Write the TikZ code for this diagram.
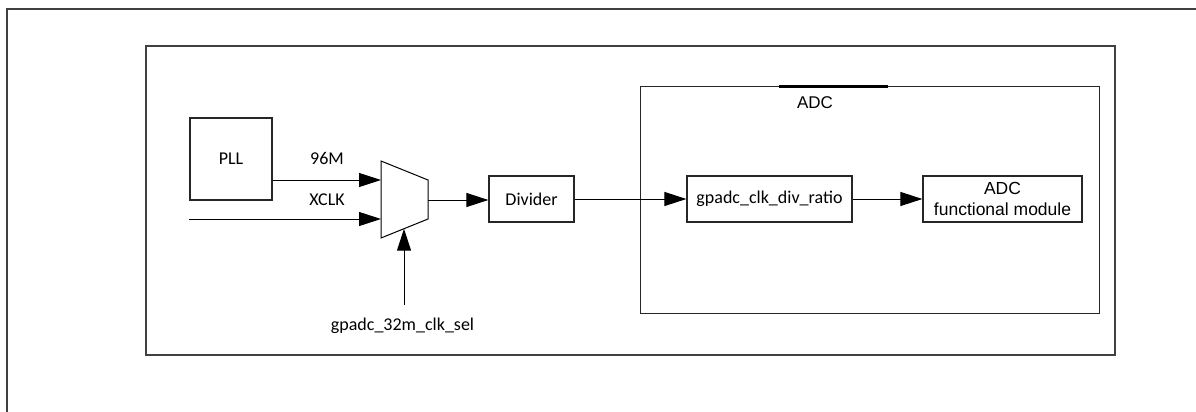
\documentclass[tikz,border=0pt]{standalone}
\usepackage{fontspec}
\setmainfont{Carlito}
\newfontfamily\arialf{Liberation Sans}
\usetikzlibrary{arrows.meta}
\tikzset{
  line/.style={line width=1pt, draw=black},
  frame/.style={line width=1.3pt, draw=black!75},
  blockbox/.style={line width=1.2pt, draw=black!85, minimum height=46pt, inner sep=0pt, font=\fontsize{18}{20}\selectfont},
  arr/.style={line, -{Triangle[length=22pt,width=14pt]}},
  lbl/.style={font=\fontsize{18}{20}\selectfont, inner sep=0pt, anchor=base},
}
\begin{document}
\begin{tikzpicture}[x=1pt,y=-1pt]
\useasboundingbox (0,0) rectangle (1196,412);
% outer frame (open to right and bottom)
\draw[frame] (7,412) -- (7,9) -- (1196,9);
% inner frame
\draw[frame] (146,46) rectangle (1115,355);
% ADC container
\draw[line, draw=black!85] (640,86) rectangle (1099,313);
\draw[line width=3pt] (779,86) -- (888,86);
\node[lbl, font=\arialf\fontsize{17}{20}\selectfont] (adclbl) at (815,108) {ADC};
% PLL
\node[blockbox, minimum width=82pt, minimum height=82pt] (pll) at (231,159) {PLL};
% mux
\coordinate (mtl) at (381,161);
\coordinate (mtr) at (428,180);
\coordinate (mbr) at (428,219);
\coordinate (mbl) at (381,238);
\draw[line, fill=white] (mtl) -- (mtr) -- (mbr) -- (mbl) -- cycle;
\coordinate (min1) at (381,180);
\coordinate (min2) at (381,219);
\coordinate (mout) at (428,200);
\coordinate (msel) at (404,228.7);
\coordinate (xin) at (189,219);
\coordinate (selin) at (404,305);
% blocks
\node[blockbox, minimum width=85pt] (div) at (531.5,199) {Divider};
\node[blockbox, minimum width=165pt] (ratio) at (769.5,199) {gpadc\_clk\_div\_ratio};
\node[blockbox, minimum width=159pt, align=center, font=\arialf\fontsize{17.5}{21.5}\selectfont] (func) at (1002.5,199) {ADC\\functional module};
% connectors
\draw[arr] (pll.east |- min1) -- (min1);
\draw[arr] (xin) -- (min2);
\draw[arr] (selin) -- (msel);
\draw[arr] (mout) -- (div.west |- mout);
\draw[arr] (div.east) -- (ratio.west);
\draw[arr] (ratio.east) -- (func.west);
% labels
\node[lbl] (l96) at (327,164) {96M};
\node[lbl] (lx) at (327,205) {XCLK};
\node[lbl] (lsel) at (402.5,330) {gpadc\_32m\_clk\_sel};
\end{tikzpicture}
\end{document}
